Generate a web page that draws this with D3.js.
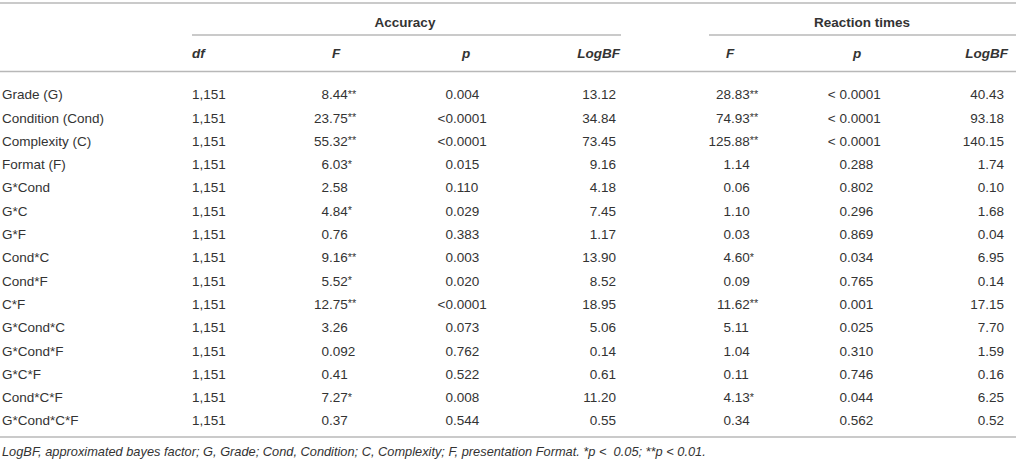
<!DOCTYPE html>
<html>
<head>
<meta charset="utf-8">
<script src="https://cdn.jsdelivr.net/npm/d3@7"></script>
<style>
  body { margin: 0; background: #fff; }
  svg text { font-family: "Liberation Sans", Arial, sans-serif; fill: #333; }
</style>
</head>
<body>
<svg id="tbl" width="1016" height="464"></svg>
<script>
const effects = ["Grade (G)", "Condition (Cond)", "Complexity (C)", "Format (F)", "G*Cond", "G*C", "G*F",
  "Cond*C", "Cond*F", "C*F", "G*Cond*C", "G*Cond*F", "G*C*F", "Cond*C*F", "G*Cond*C*F"];
const dfValues = effects.map(() => "1,151");
const accF = ["8.44**", "23.75**", "55.32**", "6.03*", "2.58", "4.84*", "0.76", "9.16**", "5.52*", "12.75**",
  "3.26", "0.092", "0.41", "7.27*", "0.37"];
const accP = ["0.004", "<0.0001", "<0.0001", "0.015", "0.110", "0.029", "0.383", "0.003", "0.020", "<0.0001",
  "0.073", "0.762", "0.522", "0.008", "0.544"];
const accBF = ["13.12", "34.84", "73.45", "9.16", "4.18", "7.45", "1.17", "13.90", "8.52", "18.95",
  "5.06", "0.14", "0.61", "11.20", "0.55"];
const rtF = ["28.83**", "74.93**", "125.88**", "1.14", "0.06", "1.10", "0.03", "4.60*", "0.09", "11.62**",
  "5.11", "1.04", "0.11", "4.13*", "0.34"];
const rtP = ["< 0.0001", "< 0.0001", "< 0.0001", "0.288", "0.802", "0.296", "0.869", "0.034", "0.765", "0.001",
  "0.025", "0.310", "0.746", "0.044", "0.562"];
const rtBF = ["40.43", "93.18", "140.15", "1.74", "0.10", "1.68", "0.04", "6.95", "0.14", "17.15",
  "7.70", "1.59", "0.16", "6.25", "0.52"];
const groups = ["Accuracy", "Reaction times"];
const colHeads = ["df", "F", "p", "LogBF", "F", "p", "LogBF"];
const footnote = "LogBF, approximated bayes factor; G, Grade; Cond, Condition; C, Complexity; F, presentation Format. *p <  0.05; **p < 0.01.";

const svg = d3.select("#tbl");
const fs = 13.5;
const ruleColor = "#b8b8b8";

// rows
const y = d3.scalePoint().domain(effects).range([94.5, 420.7]);

// column layout: align = left | right | dec (integer part ends at x)
const cols = [
  {values: dfValues, x: 192, align: "left", head: 0, hx: 192, ha: "start"},
  {values: accF, x: 329, align: "dec", head: 1, hx: 336, ha: "middle"},
  {values: accP, x: 453, align: "dec", head: 2, hx: 466, ha: "middle"},
  {values: accBF, x: 616, align: "right", head: 3, hx: 620, ha: "end"},
  {values: rtF, x: 731, align: "dec", head: 4, hx: 730, ha: "middle"},
  {values: rtP, x: 847, align: "dec", head: 5, hx: 857, ha: "middle"},
  {values: rtBF, x: 1004, align: "right", head: 6, hx: 1008, ha: "end"}
];

function hline(x1, x2, yy) {
  svg.append("line").attr("x1", x1).attr("x2", x2).attr("y1", yy).attr("y2", yy)
    .attr("stroke", ruleColor).attr("stroke-width", 1.3);
}

hline(0, 1016, 3);
hline(192, 621, 35);
hline(709, 1016, 35);
hline(0, 1016, 71.5);
hline(0, 1016, 437);

// group headers
svg.selectAll("text.grp").data([{t: groups[0], x: 405}, {t: groups[1], x: 862}])
  .join("text").attr("class", "grp")
  .attr("x", d => d.x).attr("y", 27).attr("text-anchor", "middle")
  .attr("font-size", fs).attr("font-weight", "bold").text(d => d.t);

// column headers
svg.selectAll("text.head").data(cols)
  .join("text").attr("class", "head")
  .attr("x", d => d.hx).attr("y", 57.5).attr("text-anchor", d => d.ha)
  .attr("font-size", fs).attr("font-weight", "bold").attr("font-style", "italic")
  .text(d => colHeads[d.head]);

// row labels
svg.selectAll("text.lab").data(effects)
  .join("text").attr("class", "lab")
  .attr("x", 2).attr("y", d => y(d)).attr("dy", "0.35em")
  .attr("font-size", fs).text(d => d);

// measure integer part width for decimal alignment
const meas = svg.append("text").attr("font-size", fs).attr("visibility", "hidden");
function width(s) { meas.text(s); return s ? meas.node().getComputedTextLength() : 0; }

cols.forEach(c => {
  const g = svg.append("g");
  const cells = g.selectAll("text").data(c.values.map((v, i) => ({v, e: effects[i]})))
    .join("text")
    .attr("y", d => y(d.e)).attr("dy", "0.35em").attr("font-size", fs)
    .style("white-space", "pre");
  if (c.align === "left") {
    cells.attr("x", c.x).attr("text-anchor", "start");
  } else if (c.align === "right") {
    cells.attr("x", c.x).attr("text-anchor", "end");
  } else {
    cells.attr("x", d => c.x - width(d.v.split(".")[0])).attr("text-anchor", "start");
  }
  cells.each(function(d) {
    const m = d.v.match(/^([^*]*)(\**)$/);
    const t = d3.select(this);
    t.append("tspan").text(m[1]);
    if (m[2]) t.append("tspan").attr("font-size", fs * 0.8).attr("dy", "-0.15em").text(m[2]);
  });
});
meas.remove();

svg.append("text").attr("x", 2).attr("y", 456)
  .attr("font-size", 12.8).attr("font-style", "italic")
  .style("white-space", "pre").text(footnote);
</script>
</body>
</html>
